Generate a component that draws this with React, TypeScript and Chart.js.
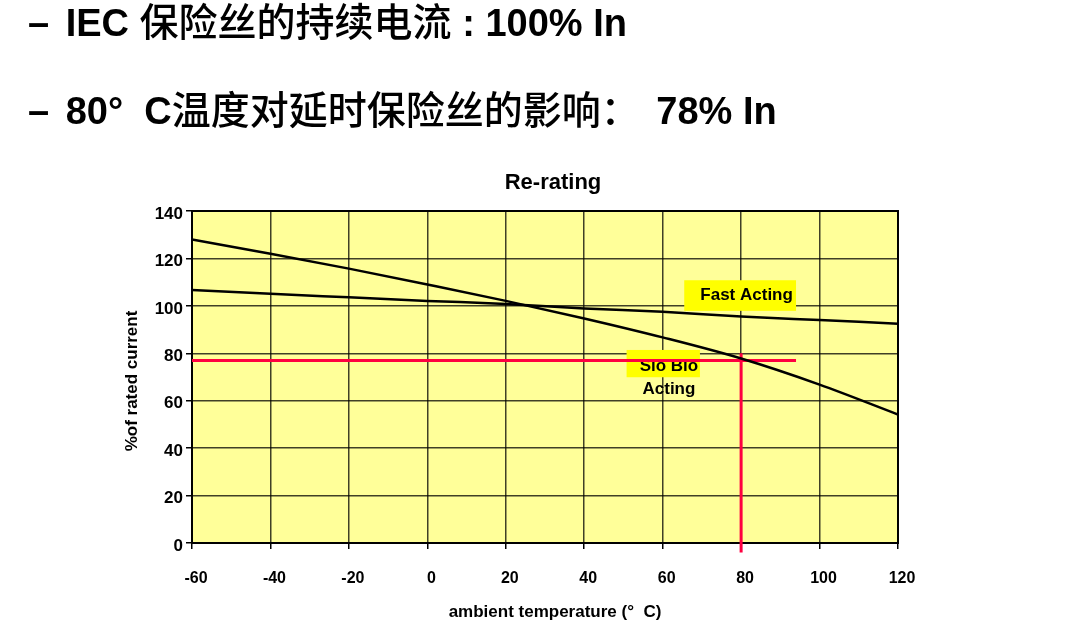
import React, { useEffect, useRef } from "react";
import { Chart, registerables } from "chart.js";

Chart.register(...registerables);

// ---- data ----
const temperatures = [-60, -40, -20, 0, 20, 40, 60, 80, 100, 120];
const fastActing = [106.7, 105.1, 103.6, 102.1, 100.8, 98.9, 97.5, 95.5, 94.0, 92.5];
const sloBlo = [128, 122, 115.7, 109, 102.1, 94.7, 86.7, 77.8, 66.8, 54.2];
const markerHX = [-60, 94];
const markerHY = [77, 77];
const markerVX = [80, 80];
const markerVY = [80, -4];

// header lines: [latin(bold), cjk, latin(bold)]
const headerLine1 = ["IEC ", "保险丝的持续电流", " : 100% In"];
const headerLine2 = ["80°  C", "温度对延时保险丝的影响：", " 78% In"];
const chartTitle = "Re-rating";
const xTitle = "ambient temperature (°  C)";
const yTitle = "%of rated current";

// annotation labels in data coordinates
const fastLabel = { text: ["Fast Acting"], box: [65.5, 94.0, 110.8, 97.9], textX: 69.6, textY: [104.5] };
const sloLabel = { text: ["Slo Blo", "Acting"], box: [50.8, 69.5, 81.4, 69.9], textX: 61.6, textY: [74.7, 65] };

const FONT = "'Liberation Sans', Arial, sans-serif";

function Header({ parts, top, tailPad }: { parts: string[]; top: number; tailPad: number }) {
  const base: React.CSSProperties = {
    position: "absolute",
    left: 28,
    top,
    fontFamily: "'Liberation Sans', Arial, 'Noto Sans CJK SC', sans-serif",
    fontWeight: "bold",
    fontSize: 38,
    lineHeight: "38px",
    whiteSpace: "pre",
    color: "#000",
  };
  return (
    <div style={base}>
      <span style={{ marginRight: 6 }}>–</span>
      {" "}
      <span>{parts[0]}</span>
      <span style={{ fontFamily: "'Noto Sans CJK SC', sans-serif", fontWeight: 500, fontSize: 39 }}>{parts[1]}</span>
      <span style={{ paddingLeft: tailPad }}>{parts[2]}</span>
    </div>
  );
}

export default function App() {
  const ref = useRef<HTMLCanvasElement | null>(null);

  useEffect(() => {
    if (!ref.current) return;
    Chart.defaults.font.family = FONT;

    const bgPlugin = {
      id: "bg",
      beforeDraw(chart: any) {
        const { ctx, chartArea: a } = chart;
        ctx.save();
        ctx.fillStyle = "#FFFF99";
        ctx.fillRect(a.left, a.top, a.right - a.left, a.bottom - a.top);
        ctx.restore();
      },
    };

    const labelPlugin = {
      id: "labels",
      beforeDatasetsDraw(chart: any) {
        const { ctx, chartArea: a, scales } = chart;
        const xs = scales.x, ys = scales.y;
        ctx.save();
        ctx.strokeStyle = "#000";
        ctx.lineWidth = 2;
        ctx.strokeRect(a.left, a.top, a.right - a.left, a.bottom - a.top);
        for (const lab of [fastLabel, sloLabel]) {
          const x0 = xs.getPixelForValue(lab.box[0]);
          const x1 = xs.getPixelForValue(lab.box[1]);
          const y0 = ys.getPixelForValue(lab.box[2]);
          const y1 = ys.getPixelForValue(lab.box[3]);
          ctx.fillStyle = "#FFFF00";
          ctx.fillRect(x0, y0, x1 - x0, y1 - y0);
        }
        ctx.fillStyle = "#000";
        ctx.font = `bold 17px ${FONT}`;
        ctx.textBaseline = "middle";
        ctx.textAlign = "left";
        ctx.fillText(fastLabel.text[0], xs.getPixelForValue(fastLabel.textX), ys.getPixelForValue(fastLabel.textY[0]));
        ctx.textAlign = "center";
        sloLabel.text.forEach((t, i) => {
          ctx.fillText(t, xs.getPixelForValue(sloLabel.textX), ys.getPixelForValue(sloLabel.textY[i]));
        });
        ctx.restore();
      },
    };

    const titlePlugin = {
      id: "titles",
      afterDraw(chart: any) {
        const { ctx } = chart;
        ctx.save();
        ctx.fillStyle = "#000";
        ctx.textAlign = "center";
        ctx.textBaseline = "alphabetic";
        ctx.font = `bold 22px ${FONT}`;
        ctx.fillText(chartTitle, 553, 189);
        ctx.font = `bold 17px ${FONT}`;
        ctx.fillText(xTitle, 555, 616.5);
        ctx.translate(137, 381);
        ctx.rotate(-Math.PI / 2);
        ctx.fillText(yTitle, 0, 0);
        ctx.restore();
      },
    };

    const chart = new Chart(ref.current, {
      type: "line",
      data: {
        datasets: [
          {
            label: "Fast Acting",
            data: temperatures.map((t, i) => ({ x: t, y: fastActing[i] })),
            borderColor: "#000",
            borderWidth: 2.5,
            pointRadius: 0,
            cubicInterpolationMode: "monotone",
          },
          {
            label: "Slo Blo Acting",
            data: temperatures.map((t, i) => ({ x: t, y: sloBlo[i] })),
            borderColor: "#000",
            borderWidth: 2.5,
            pointRadius: 0,
            cubicInterpolationMode: "monotone",
          },
          {
            label: "80C level",
            data: markerHX.map((t, i) => ({ x: t, y: markerHY[i] })),
            borderColor: "#FF0040",
            borderWidth: 3,
            pointRadius: 0,
          },
          {
            label: "80C",
            data: markerVX.map((t, i) => ({ x: t, y: markerVY[i] })),
            borderColor: "#FF0040",
            borderWidth: 3,
            pointRadius: 0,
            clip: false as any,
          },
        ] as any,
      },
      options: {
        animation: false,
        responsive: false,
        devicePixelRatio: 1,
        layout: { padding: { top: 211, right: 182, left: 0, bottom: 0 } },
        plugins: { legend: { display: false }, tooltip: { enabled: false }, title: { display: false } },
        scales: {
          x: {
            type: "linear",
            min: -60,
            max: 120,
            afterFit(s: any) { s.height = 97; },
            ticks: { stepSize: 20, color: "#000", font: { size: 16, weight: "bold" }, padding: 20, labelOffset: 4 },
            grid: { color: "rgba(0,0,0,0.75)", lineWidth: 1.5, tickLength: 6, tickColor: "#000" },
            border: { display: true, color: "#000", width: 2 },
          },
          y: {
            min: 0,
            max: 140,
            afterFit(s: any) { s.width = 192; },
            ticks: { stepSize: 20, color: "#000", font: { size: 17, weight: "bold" }, padding: 3, labelOffset: 3 },
            grid: { color: "rgba(0,0,0,0.75)", lineWidth: 1.5, tickLength: 6, tickColor: "#000" },
            border: { display: true, color: "#000", width: 2 },
          },
        },
      } as any,
      plugins: [bgPlugin, labelPlugin, titlePlugin],
    });
    return () => chart.destroy();
  }, []);

  return (
    <div style={{ position: "absolute", left: 0, top: 0, width: 1080, height: 640, background: "#fff", overflow: "hidden" }}>
      <canvas ref={ref} width={1080} height={640} style={{ position: "absolute", left: 0, top: 0, display: "block" }} />
      <Header parts={headerLine1} top={0} tailPad={0} />
      <Header parts={headerLine2} top={88} tailPad={6} />
    </div>
  );
}
